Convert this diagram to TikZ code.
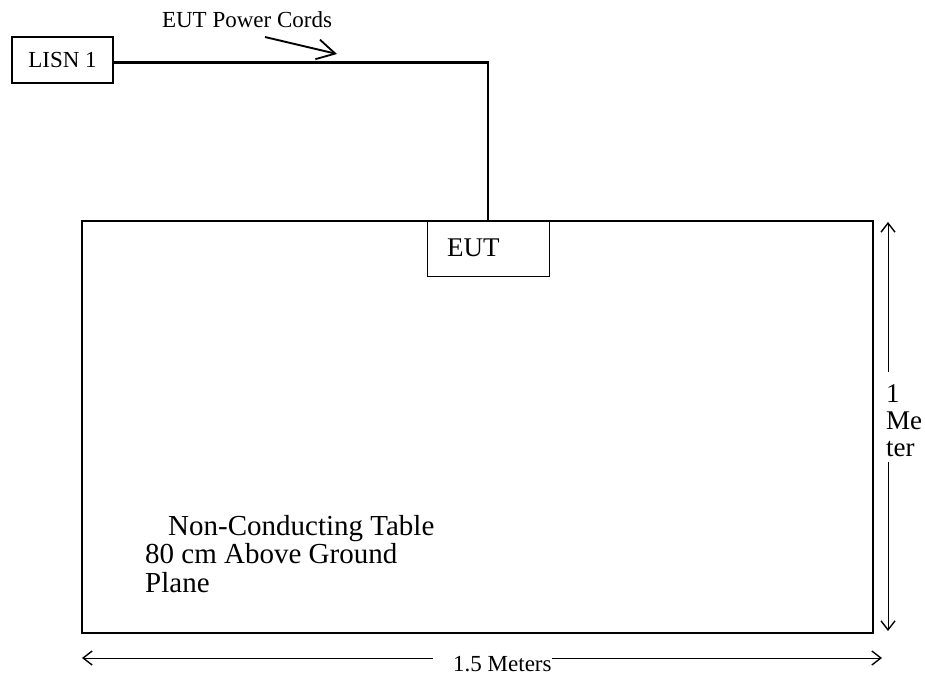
\documentclass[tikz,border=0pt]{standalone}
\usepackage{fontspec}
\setmainfont{Liberation Serif}
\usetikzlibrary{arrows.meta}
\begin{document}
\begin{tikzpicture}[x=1pt,y=-1pt,
  bigtext/.style={font=\fontsize{27}{28}\selectfont},
  smalltext/.style={font=\fontsize{23}{25}\selectfont},
  boxline/.style={draw, line width=2.3pt},
  cordline/.style={line width=2.7pt},
  dimline/.style={line width=0.8pt},
  dimtip/.style={-{Straight Barb[length=9pt,width=14pt,line width=1.4pt]}},
  pctip/.style={-{Straight Barb[length=18pt,width=20pt,line width=1.8pt]}},
]
\useasboundingbox (0,0) rectangle (925,675);
% boxes
\node[boxline, minimum width=101pt, minimum height=46pt, inner sep=0pt, smalltext] (lisn) at (62.5,60) {LISN 1};
\node[draw, line width=2.4pt, minimum width=791pt, minimum height=412pt, inner sep=0pt] (table) at (477.5,427) {};
\node[draw, line width=0.9pt, minimum width=122pt, minimum height=55pt, inner sep=0pt] (eut) at (488,248.5) {};
\node[bigtext, anchor=west, inner sep=0pt] (euttext) at (447,248) {EUT};
% power cord
\coordinate (bend) at (488,62.5);
\draw[cordline] (lisn.east |- bend) -- (bend) -- (bend |- eut.north);
\node[smalltext, inner sep=0pt] (pclabel) at (247,20) {EUT Power Cords};
\coordinate (pctail) at (265,37);
\coordinate (pchead) at (337,54);
\draw[line width=1.9pt, pctip] (pctail) -- (pchead);
% table text
\node[anchor=north west, align=left, inner sep=0pt, font=\fontsize{29}{28.5}\selectfont] (tabletext) at (145,515) {\hspace*{23pt}Non-Conducting Table\\80 cm Above Ground\\Plane};
% right dimension
\node[anchor=west, align=left, inner sep=0pt, font=\fontsize{27}{27}\selectfont] (meter) at (886,421) {1\\Me\\ter};
\coordinate (vtop) at (888,222);
\coordinate (vtopend) at (888,372);
\coordinate (vbotstart) at (888,462);
\coordinate (vbot) at (888,631);
\draw[dimline, dimtip] (vtopend) -- (vtop);
\draw[dimline, dimtip] (vbotstart) -- (vbot);
% bottom dimension
\coordinate (hleft) at (82,658);
\coordinate (hleftend) at (433,658);
\coordinate (hright) at (882,658);
\node[smalltext, anchor=west, inner sep=0pt] (hlabel) at (453,664) {1.5 Meters};
\draw[dimline, dimtip] (hleftend) -- (hleft);
\draw[dimline, dimtip] (hlabel.east |- hright) -- (hright);
\end{tikzpicture}
\end{document}
